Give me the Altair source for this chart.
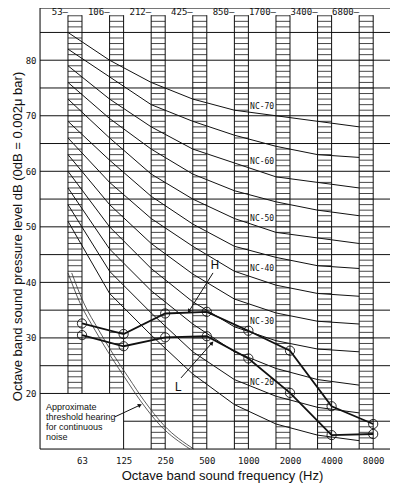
import altair as alt
import pandas as pd

# ---------------- data ----------------
freq_labels = ["63", "125", "250", "500", "1000", "2000", "4000", "8000"]
band_centres = ["53", "106", "212", "425", "850", "1700", "3400", "6800"]

nc_names = ["NC-15", "NC-20", "NC-25", "NC-30", "NC-35", "NC-40",
            "NC-45", "NC-50", "NC-55", "NC-60", "NC-65", "NC-70"]
nc_levels = [
    [51, 38, 30.5, 23.5, 18, 14.5, 12.5, 11.5],
    [54, 42, 34.5, 27.5, 22.5, 19.5, 17.5, 16.5],
    [57, 46, 38.5, 32.5, 27.5, 24.5, 22.5, 21.5],
    [60, 50, 42.5, 36.5, 32, 29.5, 28, 27.5],
    [63, 54, 47, 41.5, 37, 34.5, 33, 32.5],
    [66, 58, 51.5, 46.5, 42, 39.5, 38, 37.5],
    [69, 62, 55.5, 50.5, 46.5, 44.5, 43, 42.5],
    [73, 66, 59.5, 55, 51.5, 49, 48, 47],
    [76, 69.5, 64, 59.5, 56.5, 54.5, 53, 52],
    [79, 73, 68, 64, 61.5, 59, 58, 57],
    [82, 77, 72, 69, 66.5, 64.5, 63, 62.5],
    [85, 80, 76, 73, 71, 70, 69, 68],
]
nc_label_names = ["NC-70", "NC-60", "NC-50", "NC-40", "NC-30", "NC-20"]
nc_label_db = [71.6, 61.7, 51.4, 42.4, 32.9, 21.9]

H_levels = [32.6, 30.7, 34.4, 34.7, 31.3, 27.7, 17.7, 14.5]
L_levels = [30.5, 28.5, 30.1, 30.3, 26.3, 20.1, 12.5, 12.7]

threshold_pos = [-0.337, -0.048, 0.313, 0.673, 1.034, 1.394, 1.875, 2.596]
threshold_db = [41.7, 36.3, 31.4, 26.9, 22.8, 18.8, 14.3, 10.0]

note_lines = ["Approximate", "threshold hearing", "for continuous", "noise"]

# ---------------- geometry ----------------
XD = [-1.0096, 7.404]
YD = [10, 89.4]
BAND_W = 0.337
BOX_TOP = 88.1
xs = alt.Scale(domain=XD, nice=False, zero=False)
ys = alt.Scale(domain=YD, nice=False, zero=False)
MONO = "DejaVu Sans Mono"
SANS = "Liberation Sans"

label_expr = "[" + ",".join(f"'{t}'" for t in freq_labels) + "][datum.value]"
X_AXIS = alt.Axis(
    values=list(range(8)), labelExpr=label_expr, title="Octave band sound frequency (Hz)",
    grid=False, domain=False, ticks=False, labelPadding=7, labelFont=MONO,
    labelFontSize=9, labelColor="#111", titleFont=SANS, titleFontSize=13,
    titleFontWeight="normal", titleColor="#111", titleX=182, titlePadding=4)
Y_AXIS = alt.Axis(
    values=list(range(20, 81, 10)),
    title="Octave band sound pressure level dB (0dB = 0.002\u03bc bar)",
    grid=False, domain=False, ticks=False, labelPadding=4, labelFont=MONO,
    labelFontSize=9, labelColor="#111", titleFont=SANS, titleFontSize=13,
    titleFontWeight="normal", titleColor="#111", titleAngle=270,
    titleX=-23, titleY=228, titleBaseline="middle", titleAlign="center")


def X(f="x"):
    return alt.X(f"{f}:Q", scale=xs, axis=X_AXIS)


def Y(f="y"):
    return alt.Y(f"{f}:Q", scale=ys, axis=Y_AXIS)


# grid lines
grid = [{"x": XD[0], "x2": XD[1], "y": v} for v in range(20, 90, 5)]
grid.append({"x": 1, "x2": XD[1], "y": 15})
grid.append({"x": XD[0], "x2": XD[1], "y": YD[0]})
grid.append({"x": XD[0], "x2": XD[1], "y": YD[1]})
grid_df = pd.DataFrame(grid)

# hatch columns
hatch, edges = [], []
for c in range(8):
    bottom = 20 if c < 2 else 10
    left, right = c - BAND_W, c
    for d in range(bottom + 1, int(BOX_TOP) + 1):
        hatch.append({"x": left, "x2": right, "y": d})
    edges.append({"x": left, "y": bottom, "y2": BOX_TOP})
    edges.append({"x": right, "y": 10 if c == 1 else bottom, "y2": BOX_TOP})
edges.append({"x": XD[0], "y": YD[0], "y2": YD[1]})
hatch_df = pd.DataFrame(hatch)
edges_df = pd.DataFrame(edges)

nc_rows = []
for name, vals in zip(nc_names, nc_levels):
    for k, v in enumerate(vals):
        nc_rows.append({"curve": name, "k": k, "x": k - BAND_W, "y": v})
nc_df = pd.DataFrame(nc_rows)

thr_rows = []
for j, (p, d) in enumerate(zip(threshold_pos, threshold_db)):
    thr_rows.append({"line": "a", "k": j, "x": p, "y": d})
    thr_rows.append({"line": "b", "k": j, "x": p + 0.09, "y": d})
thr_df = pd.DataFrame(thr_rows)

meas_rows = []
for k in range(8):
    meas_rows.append({"series": "H", "k": k, "x": k, "y": H_levels[k]})
    meas_rows.append({"series": "L", "k": k, "x": k, "y": L_levels[k]})
meas_df = pd.DataFrame(meas_rows)

top_df = pd.DataFrame({"x": [c - BAND_W for c in range(8)],
                       "t": [b + "—" for b in band_centres]})
ncl_df = pd.DataFrame({"x": [4.33] * len(nc_label_names), "y": nc_label_db,
                       "t": nc_label_names})
note_df = pd.DataFrame({"x": [-0.865] * 4, "y": [17.56, 15.76, 13.96, 12.16],
                        "t": note_lines})
hl_df = pd.DataFrame({"x": [3.197, 2.308], "y": [43.1, 21.2], "t": ["H", "L"]})
arrows_df = pd.DataFrame({"x": [3.149, 2.38, 0.793], "y": [41.7, 22.8, 15.8],
                          "x2": [2.572, 3.125, 1.394], "y2": [34.8, 29.1, 17.9],
                          "ang": [211, 41.5, 64.3]})

base = alt.Chart(grid_df).mark_rule(color="#111", strokeWidth=1).encode(
    x=X(), x2="x2:Q", y=Y())
hatch_l = alt.Chart(hatch_df).mark_rule(color="#333", strokeWidth=0.9).encode(
    x=X(), x2="x2:Q", y=Y())
edge_l = alt.Chart(edges_df).mark_rule(color="#111", strokeWidth=1).encode(
    x=X(), y=Y(), y2="y2:Q")
nc_l = alt.Chart(nc_df).mark_line(color="#111", strokeWidth=1).encode(
    x=X(), y=Y(), detail="curve:N", order="k:Q")
thr_l = alt.Chart(thr_df).mark_line(color="#333", strokeWidth=0.8, interpolate="monotone").encode(
    x=X(), y=Y(), detail="line:N", order="k:Q")
meas_l = alt.Chart(meas_df).mark_line(color="#111", strokeWidth=1.8).encode(
    x=X(), y=Y(), detail="series:N", order="k:Q")
meas_p = alt.Chart(meas_df).mark_point(shape="circle", size=85, filled=False,
                                       color="#111", strokeWidth=0.9, opacity=1).encode(
    x=X(), y=Y())
top_t = alt.Chart(top_df).mark_text(font=MONO, fontSize=9, align="right", baseline="alphabetic",
                                    color="#111").encode(x=X(), y=alt.value(7), text="t:N")
ncl_t = alt.Chart(ncl_df).mark_text(font=MONO, fontSize=8, color="#111").encode(
    x=X(), y=Y(), text="t:N")
note_t = alt.Chart(note_df).mark_text(font=SANS, fontSize=9, align="left", color="#111").encode(
    x=X(), y=Y(), text="t:N")
hl_t = alt.Chart(hl_df).mark_text(font="DejaVu Sans Condensed", fontSize=13, color="#111").encode(
    x=X(), y=Y(), text="t:N")
arr_l = alt.Chart(arrows_df).mark_rule(color="#111", strokeWidth=1).encode(
    x=X(), y=Y(), x2="x2:Q", y2="y2:Q")
arr_h = alt.Chart(arrows_df).mark_point(shape="triangle-up", size=22, filled=True,
                                        color="#111", opacity=1).encode(
    x=X("x2"), y=Y("y2"), angle=alt.Angle("ang:Q", scale=None))

chart = alt.layer(base, hatch_l, edge_l, nc_l, thr_l, meas_l, meas_p, top_t, ncl_t,
                  note_t, hl_t, arr_l, arr_h).properties(
    width=350, height=441,
    autosize=alt.AutoSizeParams(type="none"),
    padding={"left": 32, "top": 0, "right": 0, "bottom": 34},
).configure_view(stroke=None).configure(background="white")

chart.save("out.html", embed_options={"renderer": "svg", "actions": False})
